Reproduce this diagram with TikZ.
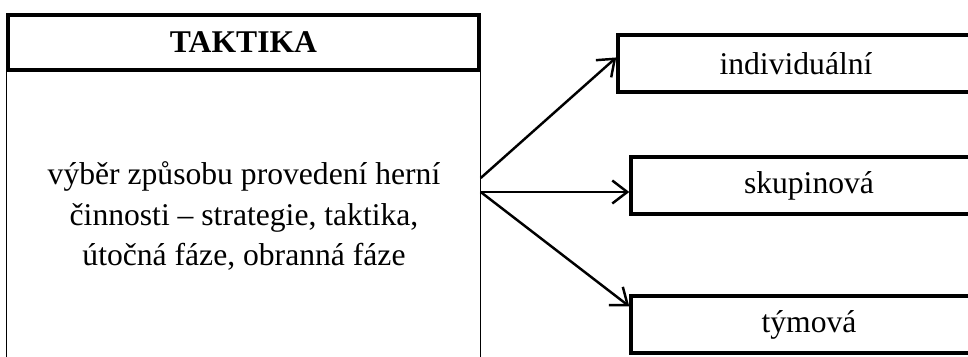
\documentclass[tikz,border=0pt]{standalone}
\usepackage{fontspec}
\setmainfont{Liberation Serif}
\usepackage{tikz}
\usetikzlibrary{
    arrows.meta,
    calc,
    positioning
}
\definecolor{ink}{HTML}{000000}

\begin{document}
\begin{tikzpicture}[
    x=0.02cm, y=-0.02cm,
    line join=miter,
    >={Straight Barb[length=3mm, width=4.6mm]},
    %% --- semantic styles ---
    headbox/.style   = {rectangle, draw=ink, line width=2pt,
                        minimum width=9.42cm, minimum height=1.1cm,
                        inner sep=0pt, font=\fontsize{18}{23}\selectfont\bfseries},
    bodytext/.style  = {align=center, inner sep=0pt, text=ink,
                        font=\fontsize{18}{23.3}\selectfont},
    kindbox/.style   = {rectangle, draw=ink, line width=2pt,
                        minimum width=7.12cm, minimum height=1.14cm,
                        inner sep=0pt, font=\fontsize{18}{23}\selectfont},
    sideline/.style  = {draw=ink, line width=0.8pt},
    fanflow/.style   = {->, draw=ink, line width=1.4pt}
]
\useasboundingbox (0,0) rectangle (968,356);
\clip (0,0) rectangle (968,356);

%% =====================================================
%% TAKTIKA — header and open column below it
%% =====================================================
\node[headbox] (HEAD) at (243.5, 42.5) {TAKTIKA};
\draw[sideline] (HEAD.south west) -- ++(0, 320);
\draw[sideline] (HEAD.south east) -- ++(0, 320);

\node[bodytext] (DESC) at (244, 216) {%
    výběr způsobu provedení herní\\
    činnosti -- strategie, taktika,\\
    útočná fáze, obranná fáze
};

%% =====================================================
%% Three kinds of tactics
%% =====================================================
\node[kindbox] (IND) at (796, 63.5)  {individuální};
\node[kindbox] (SKU) at (809, 185.5) {skupinová};
\node[kindbox] (TYM) at (809, 324.5) {týmová};

% fan-out from the right side of the column
\coordinate (FANA) at (HEAD.east |- 0, 178);
\coordinate (FANB) at (HEAD.east |- 0, 192);

\draw[fanflow] (FANA) -- ($(IND.north west)!0.4!(IND.south west)$);
\draw[fanflow] (FANB) -- (FANB -| SKU.west);
\draw[fanflow] (FANB) -- ($(TYM.north west)!0.2!(TYM.south west)$);

\end{tikzpicture}
\end{document}
